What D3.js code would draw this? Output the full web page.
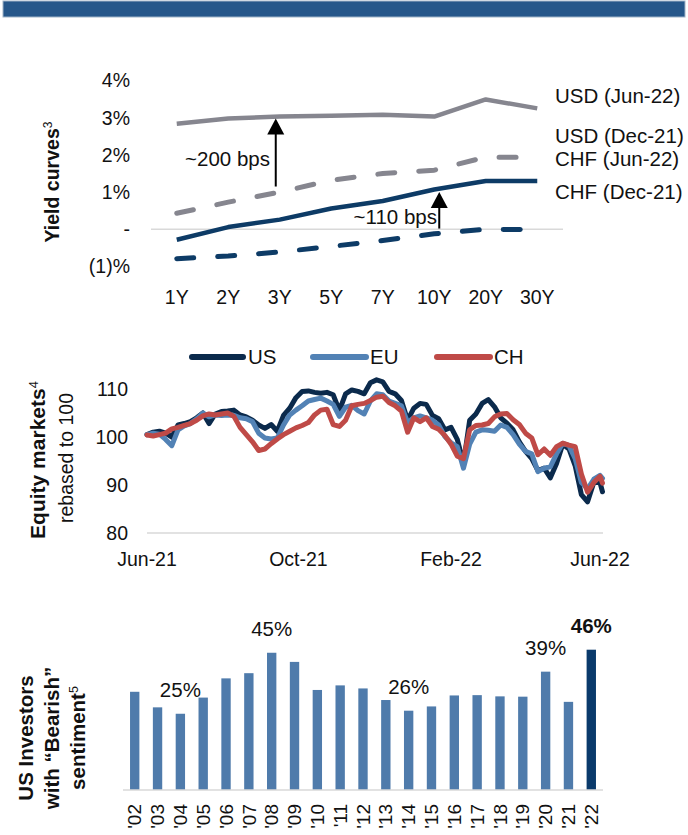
<!DOCTYPE html>
<html><head><meta charset="utf-8">
<script src="https://cdn.jsdelivr.net/npm/d3@7"></script>
<style>
body{margin:0;background:#fff;}
svg{display:block;font-family:"Liberation Sans",Arial,Helvetica,sans-serif;}
</style>
</head><body>
<svg id="c" width="688" height="835"></svg>
<script>
// ---------------- DATA ----------------
// Chart 1: yield curves
const tenors = ["1Y","2Y","3Y","5Y","7Y","10Y","20Y","30Y"];
const usdJun22 = [2.84,2.98,3.03,3.05,3.08,3.03,3.49,3.25];
const usdDec21 = [0.43,0.73,1.00,1.32,1.50,1.59,1.94,1.94];
const chfJun22 = [-0.28,0.06,0.26,0.56,0.76,1.07,1.30,1.30];
const chfDec21 = [-0.79,-0.72,-0.61,-0.46,-0.30,-0.12,0.00,-0.01];
const yieldTicks = [-1,0,1,2,3,4];
const yieldTickLabels = ["(1)%","-","1%","2%","3%","4%"];
const curveNames = ["USD (Jun-22)","USD (Dec-21)","CHF (Jun-22)","CHF (Dec-21)"];
const arrowNotes = ["~200 bps","~110 bps"];

// Chart 2: equity markets rebased to 100
const eqDates = ["2021-06-01","2021-06-06","2021-06-11","2021-06-16","2021-06-21","2021-06-26",
"2021-07-01","2021-07-06","2021-07-11","2021-07-16","2021-07-21","2021-07-26","2021-07-31",
"2021-08-05","2021-08-10","2021-08-15","2021-08-20","2021-08-25","2021-08-30",
"2021-09-04","2021-09-09","2021-09-14","2021-09-19","2021-09-24","2021-09-29",
"2021-10-04","2021-10-09","2021-10-14","2021-10-19","2021-10-24","2021-10-29",
"2021-11-03","2021-11-08","2021-11-13","2021-11-18","2021-11-23","2021-11-28",
"2021-12-03","2021-12-08","2021-12-13","2021-12-18","2021-12-23","2021-12-28",
"2022-01-02","2022-01-07","2022-01-12","2022-01-17","2022-01-22","2022-01-27",
"2022-02-01","2022-02-06","2022-02-11","2022-02-16","2022-02-21","2022-02-26",
"2022-03-03","2022-03-08","2022-03-13","2022-03-18","2022-03-23","2022-03-28",
"2022-04-02","2022-04-07","2022-04-12","2022-04-17","2022-04-22","2022-04-27",
"2022-05-02","2022-05-07","2022-05-12","2022-05-17","2022-05-22","2022-05-27",
"2022-06-01","2022-06-03"];
const usIdx = [100.5,101,101.2,100.8,100,102.5,102.8,103.2,104,105,
102.8,104.8,105.3,105.4,105.6,104.6,104.2,103.5,102.5,101.8,
102.6,101.2,104.5,106,108.2,109.5,109.6,109.3,109.1,109.3,
108.8,105.5,109,109.8,109.5,109,111.3,111.9,111.5,109.5,
109,107.6,103.5,106,107,106.8,104.5,103.8,101.5,102,
99.5,94.5,103.5,104.8,107,107.8,106.3,104,102.9,101.5,
99,97,95.5,93,93.5,91.5,94.5,98.5,97.5,94,
88,86.5,90.5,90.5,88.6];
const euIdx = [100.5,100.8,100.6,99.5,98.2,101.5,102.3,102.8,103.8,105,
104.2,104.6,104.5,104.6,104.5,104,103.8,103.2,100.8,99.8,
99.6,99.8,102.5,104.6,105.6,106.5,107.5,107.8,108.1,107.5,
106.8,104.3,106.2,106.6,105.5,104.8,107.5,109,108.8,107.5,
107,106.5,103,104,104.4,104,103.5,102.5,100.1,98.8,
98,93.5,98.5,101,101.5,101.4,101.2,102.5,102,100.5,
98.5,97,96.5,92.8,93.5,93.8,96.5,98.7,98.2,95.5,
90.5,89.2,91.2,92,91.4];
const chIdx = [100.4,100.2,100.5,100.8,101.7,102,102.4,102.8,103.5,104.4,
104.8,104.6,104.8,105,104.3,102,100.5,99,97.2,97.5,
98.6,99.6,100.5,101.2,101.9,102.4,103,104.6,105.6,105.8,
102.6,102.2,103.5,106.5,106.8,107,107.6,108.3,108.5,107.2,
106.5,105.4,101,104,103.2,104,102.2,101.6,100.3,98.5,
96,95.5,101.5,102.4,102.5,102.8,104.2,104.8,104.9,103.6,
102.6,100.8,99.8,96.3,97.5,96.2,98,98.7,98.3,98,
92.3,88.5,90.5,91.8,90.4];
const eqSeriesNames = ["US","EU","CH"];
const eqTicks = [80,90,100,110];
const eqTickDates = ["2021-06-01","2021-10-01","2022-02-01","2022-06-01"];
const eqTickLabels = ["Jun-21","Oct-21","Feb-22","Jun-22"];

// Chart 3: US investors with bearish sentiment
const years = ["'02","'03","'04","'05","'06","'07","'08","'09","'10","'11","'12",
"'13","'14","'15","'16","'17","'18","'19","'20","'21","'22"];
const bearish = [32.2,27.1,25,30.3,36.6,38.3,45,42,32.8,34.3,33.3,
29.5,26,27.4,31,31.1,30.7,30.6,38.8,28.9,46];
const labelYears = ["'04","'08","'14","'20","'22"];
const labelTexts = ["25%","45%","26%","39%","46%"];

// ---------------- DRAW ----------------
const svg = d3.select("#c");
const GRAY = "#86868f", NAVY = "#0d3b66", GRID = "#d9d9d9";

// top band
svg.append("rect").attr("x",3).attr("y",1).attr("width",682).attr("height",16)
  .attr("fill","#26578a").attr("stroke","#9fb4c8").attr("stroke-width",1);

// ===== Chart 1 =====
const x1 = d3.scalePoint().domain(tenors).range([151,563]).padding(0.5);
const y1 = d3.scaleLinear().domain([-1,4]).range([266.5,80.5]);
const g1 = svg.append("g");
g1.append("line").attr("x1",151).attr("x2",563).attr("y1",y1(0)).attr("y2",y1(0))
  .attr("stroke",GRID).attr("stroke-width",1.5);
g1.selectAll("text.yt").data(yieldTicks).join("text").attr("class","yt")
  .attr("x",130).attr("y",d=>y1(d)).attr("dy","0.35em").attr("text-anchor","end")
  .attr("font-size",19.5).attr("fill","#111").text((d,i)=>yieldTickLabels[i]);
g1.selectAll("text.xt").data(tenors).join("text").attr("class","xt")
  .attr("x",d=>x1(d)).attr("y",297).attr("dy","0.35em").attr("text-anchor","middle")
  .attr("font-size",19.5).attr("fill","#111").text(d=>d);
const line1 = d3.line().x((d,i)=>x1(tenors[i])).y(d=>y1(d));
const curves = [
  {v:usdJun22,c:GRAY,w:4.5,dash:null},
  {v:usdDec21,c:GRAY,w:5,dash:"17,24"},
  {v:chfJun22,c:NAVY,w:4.5,dash:null},
  {v:chfDec21,c:NAVY,w:5,dash:"17,24"}];
curves.forEach(cv=>{
  g1.append("path").datum(cv.v).attr("d",line1).attr("fill","none")
    .attr("stroke",cv.c).attr("stroke-width",cv.w).attr("stroke-linejoin","round")
    .attr("stroke-linecap",cv.dash?"round":"butt")
    .attr("stroke-dasharray",cv.dash);
});
// curve labels
const labelYs = [96,136,159,192];
curveNames.forEach((n,i)=>{
  g1.append("text").attr("x",555).attr("y",labelYs[i]).attr("dy","0.35em")
    .attr("font-size",20.5).attr("fill","#111").text(n);
});
// arrows
function arrow(x,yb,yt){
  g1.append("line").attr("x1",x).attr("x2",x).attr("y1",yb).attr("y2",yt+14)
    .attr("stroke","#000").attr("stroke-width",2);
  g1.append("path").attr("d",`M${x},${yt} L${x-8.5},${yt+16} L${x+8.5},${yt+16} Z`).attr("fill","#000");
}
arrow(x1("3Y")-4, y1(1.15), y1(2.98));
arrow(x1("10Y")+5, y1(0.02), y1(1.0));
g1.append("text").attr("x",270).attr("y",159).attr("dy","0.35em").attr("text-anchor","end")
  .attr("font-size",20.5).attr("fill","#111").text(arrowNotes[0]);
g1.append("text").attr("x",437).attr("y",217).attr("dy","0.35em").attr("text-anchor","end")
  .attr("font-size",20.5).attr("fill","#111").text(arrowNotes[1]);
// title
const t1 = g1.append("text").attr("transform","translate(52,182) rotate(-90)")
  .attr("text-anchor","middle").attr("dy","0.35em").attr("font-size",19.5).attr("font-weight","bold").attr("fill","#111");
t1.append("tspan").text("Yield curves");
t1.append("tspan").attr("font-size",12).attr("font-weight","normal").attr("dy","-0.6em").text("3");

// ===== Chart 2 =====
const parse = d3.timeParse("%Y-%m-%d");
const dts = eqDates.map(parse);
const x2 = d3.scaleTime().domain([parse("2021-06-01"),parse("2022-06-01")]).range([147,600]);
const y2 = d3.scaleLinear().domain([80,110]).range([533,389]);
const g2 = svg.append("g");
g2.append("line").attr("x1",147).attr("x2",603).attr("y1",y2(80)).attr("y2",y2(80))
  .attr("stroke",GRID).attr("stroke-width",1.5);
g2.selectAll("text.yt").data(eqTicks).join("text").attr("class","yt")
  .attr("x",128).attr("y",d=>y2(d)).attr("dy","0.35em").attr("text-anchor","end")
  .attr("font-size",19.5).attr("fill","#111").text(d=>d);
g2.selectAll("text.xt").data(eqTickDates).join("text").attr("class","xt")
  .attr("x",d=>x2(parse(d))).attr("y",559).attr("dy","0.35em").attr("text-anchor","middle")
  .attr("font-size",19.5).attr("fill","#111").text((d,i)=>eqTickLabels[i]);
const eqCols = ["#0b2a4c","#5282b5","#bf4a47"];
const eqData = [usIdx,euIdx,chIdx];
const line2 = d3.line().x((d,i)=>x2(dts[i])).y(d=>y2(d));
eqData.forEach((s,k)=>{
  g2.append("path").datum(s).attr("d",line2).attr("fill","none")
    .attr("stroke",eqCols[k]).attr("stroke-width",5).attr("stroke-linejoin","round").attr("stroke-linecap","round");
});
// legend
const legX = [[192,243,248],[313,366,370],[437,490,494]];
eqSeriesNames.forEach((n,k)=>{
  g2.append("line").attr("x1",legX[k][0]).attr("x2",legX[k][1]).attr("y1",357).attr("y2",357)
    .attr("stroke",eqCols[k]).attr("stroke-width",6).attr("stroke-linecap","round");
  g2.append("text").attr("x",legX[k][2]).attr("y",357).attr("dy","0.35em")
    .attr("font-size",20.5).attr("fill","#111").text(n);
});
const t2 = g2.append("text").attr("transform","translate(38,460) rotate(-90)")
  .attr("text-anchor","middle").attr("dy","0.35em").attr("font-size",21).attr("font-weight","bold").attr("fill","#111");
t2.append("tspan").text("Equity markets");
t2.append("tspan").attr("font-size",13).attr("font-weight","normal").attr("dy","-0.6em").text("4");
g2.append("text").attr("transform","translate(66,458) rotate(-90)")
  .attr("text-anchor","middle").attr("dy","0.35em").attr("font-size",19.5).attr("fill","#111").text("rebased to 100");

// ===== Chart 3 =====
const x3 = d3.scaleBand().domain(years).range([123.3,602.7]).paddingInner(0.59).paddingOuter(0.295);
const y3 = d3.scaleLinear().domain([0,50]).range([790,637.5]);
const g3 = svg.append("g");
g3.selectAll("rect.bar").data(bearish).join("rect").attr("class","bar")
  .attr("x",(d,i)=>x3(years[i])).attr("width",x3.bandwidth())
  .attr("y",d=>y3(d)).attr("height",d=>y3(0)-y3(d))
  .attr("fill",(d,i)=>i===years.length-1?"#0a3a6b":"#4f7bab");
g3.append("line").attr("x1",123).attr("x2",603).attr("y1",y3(0)).attr("y2",y3(0))
  .attr("stroke",GRID).attr("stroke-width",1.5);
labelYears.forEach((yr,i)=>{
  const v = bearish[years.indexOf(yr)];
  g3.append("text").attr("x",x3(yr)+x3.bandwidth()/2).attr("y",y3(v)-17)
    .attr("text-anchor","middle").attr("font-size",20.5)
    .attr("font-weight",yr==="'22"?"bold":"normal").attr("fill","#111").text(labelTexts[i]);
});
g3.selectAll("text.xt").data(years).join("text").attr("class","xt")
  .attr("transform",d=>`translate(${x3(d)+x3.bandwidth()/2},804) rotate(-90)`)
  .attr("text-anchor","end").attr("dy","0.35em").attr("font-size",19).attr("fill","#111").text(d=>d);
const t3lines = [["US Investors",null],["with \u201cBearish\u201d",null],["sentiment","5"]];
const t3x = [26,52,78];
t3lines.forEach((l,i)=>{
  const t = g3.append("text").attr("transform",`translate(${t3x[i]},738) rotate(-90)`)
    .attr("text-anchor","middle").attr("dy","0.35em").attr("font-size",20.5).attr("font-weight","bold").attr("fill","#111");
  t.append("tspan").text(l[0]);
  if(l[1]) t.append("tspan").attr("font-size",12.5).attr("font-weight","normal").attr("dy","-0.6em").text(l[1]);
});
</script>
</body></html>
